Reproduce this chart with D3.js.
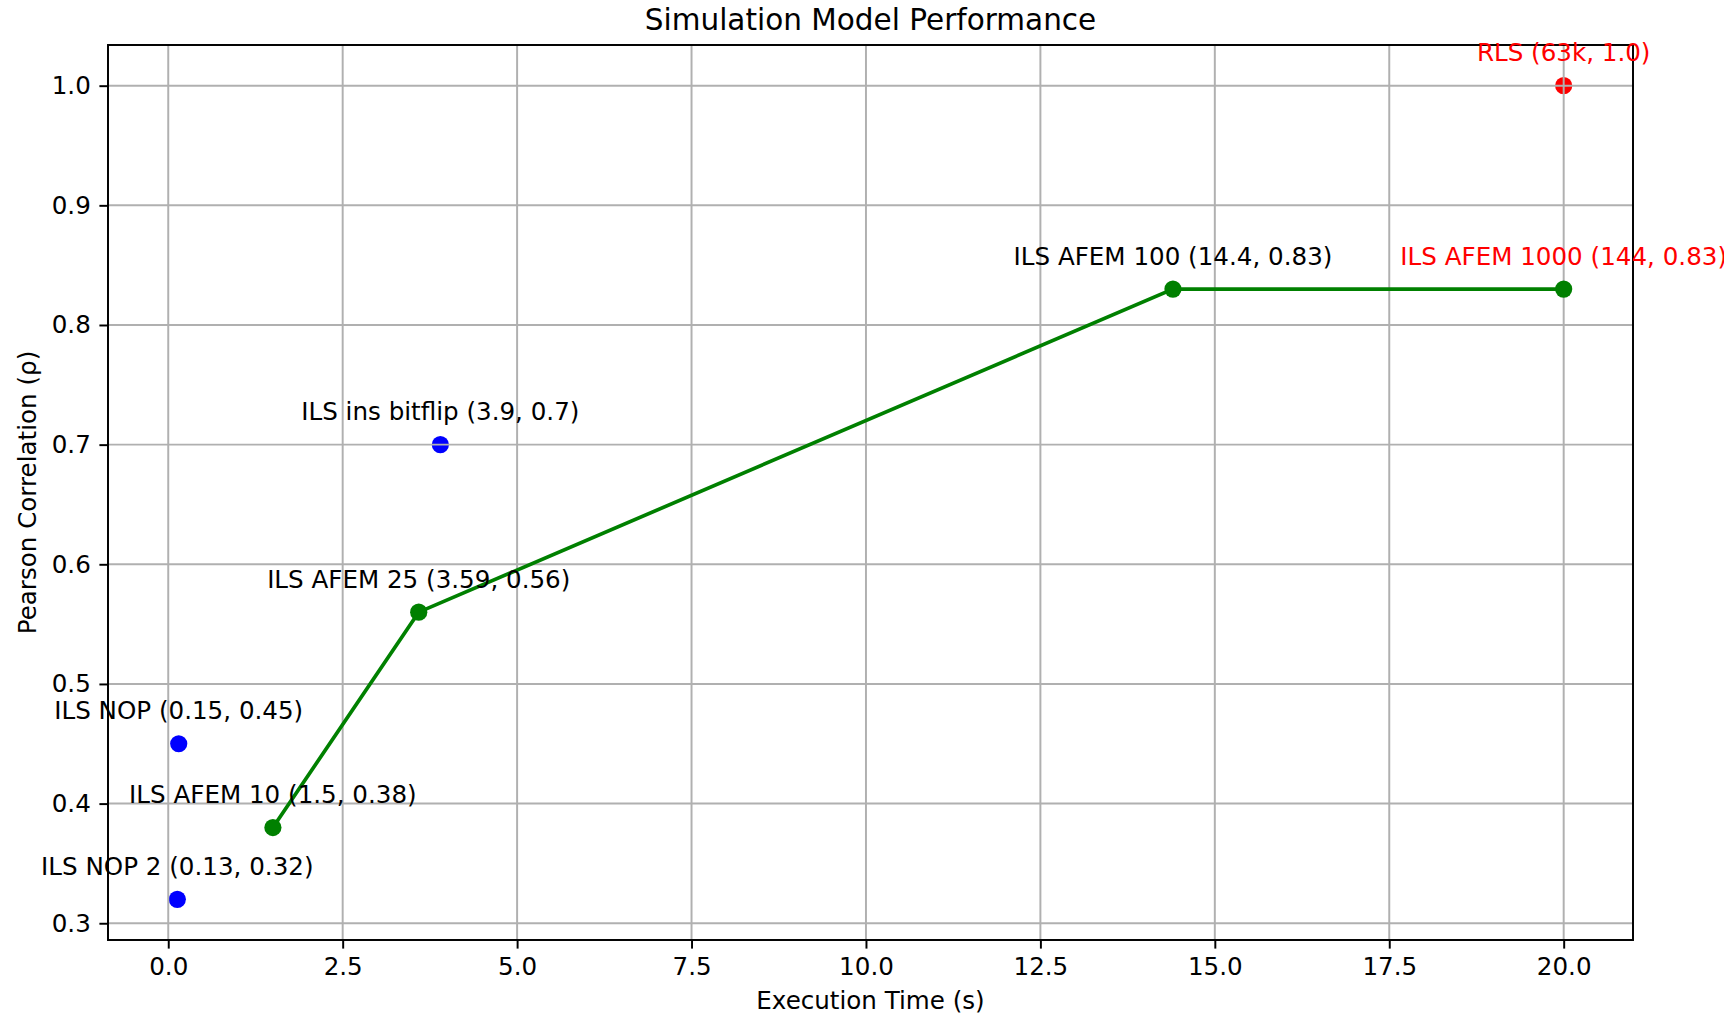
<!DOCTYPE html>
<html>
<head>
<meta charset="utf-8">
<script src="https://cdn.jsdelivr.net/npm/d3@7"></script>
<style>
  body { margin: 0; background: #fff; }
  svg { display: block; font-family: "DejaVu Sans", sans-serif; }
</style>
</head>
<body>
<svg id="chart"></svg>
<script>
// Data
const blueLabels = ["ILS NOP (0.15, 0.45)", "ILS NOP 2 (0.13, 0.32)", "ILS ins bitflip (3.9, 0.7)"];
const blueX = [0.15, 0.13, 3.9];
const blueY = [0.45, 0.32, 0.7];

const greenLabels = ["ILS AFEM 10 (1.5, 0.38)", "ILS AFEM 25 (3.59, 0.56)", "ILS AFEM 100 (14.4, 0.83)", "ILS AFEM 1000 (144, 0.83)"];
const greenX = [1.5, 3.59, 14.4, 20];
const greenY = [0.38, 0.56, 0.83, 0.83];
const greenLabelColors = ["black", "black", "black", "red"];

const redLabels = ["RLS (63k, 1.0)"];
const redX = [20];
const redY = [1.0];

const xTicks = [0, 2.5, 5, 7.5, 10, 12.5, 15, 17.5, 20];
const yTicks = [0.3, 0.4, 0.5, 0.6, 0.7, 0.8, 0.9, 1.0];

const width = 1724, height = 1015;
const plotL = 108, plotR = 1633, plotT = 45, plotB = 940;
const pt = 177 / 72; // points -> pixels
const fs = 10 * pt;

const svg = d3.select("#chart").attr("width", width).attr("height", height);

// matplotlib-style 5% margins
const allX = blueX.concat(greenX, redX);
const allY = blueY.concat(greenY, redY);
function padded(vals) {
  const [lo, hi] = d3.extent(vals);
  const m = (hi - lo) * 0.05;
  return [lo - m, hi + m];
}
const x = d3.scaleLinear().domain(padded(allX)).range([plotL, plotR]);
const y = d3.scaleLinear().domain(padded(allY)).range([plotB, plotT]);

const blue = blueX.map((v, i) => ({ x: v, y: blueY[i], label: blueLabels[i], color: "black" }));
const green = greenX.map((v, i) => ({ x: v, y: greenY[i], label: greenLabels[i], color: greenLabelColors[i] }));
const red = redX.map((v, i) => ({ x: v, y: redY[i], label: redLabels[i], color: "red" }));

// scatter points (under the grid, like matplotlib)
const r = 3.5 * pt;
svg.append("g").selectAll("circle")
  .data(blue).join("circle")
  .attr("cx", d => x(d.x)).attr("cy", d => y(d.y)).attr("r", r)
  .attr("fill", "#0000ff");
svg.append("g").selectAll("circle")
  .data(red).join("circle")
  .attr("cx", d => x(d.x)).attr("cy", d => y(d.y)).attr("r", r)
  .attr("fill", "#ff0000");

// grid
const grid = svg.append("g").attr("stroke", "#b0b0b0").attr("stroke-width", 0.8 * pt);
grid.selectAll(".gx").data(xTicks).join("line").attr("class", "gx")
  .attr("x1", d => x(d)).attr("x2", d => x(d)).attr("y1", plotT).attr("y2", plotB);
grid.selectAll(".gy").data(yTicks).join("line").attr("class", "gy")
  .attr("y1", d => y(d)).attr("y2", d => y(d)).attr("x1", plotL).attr("x2", plotR);

// green line with markers
svg.append("path")
  .datum(green)
  .attr("fill", "none")
  .attr("stroke", "#008000")
  .attr("stroke-width", 1.5 * pt)
  .attr("d", d3.line().x(d => x(d.x)).y(d => y(d.y)));
svg.append("g").selectAll("circle")
  .data(green).join("circle")
  .attr("cx", d => x(d.x)).attr("cy", d => y(d.y)).attr("r", r)
  .attr("fill", "#008000");

// axes
const xAxis = svg.append("g")
  .attr("transform", `translate(0,${plotB})`)
  .call(d3.axisBottom(x).tickValues(xTicks).tickFormat(d3.format(".1f"))
    .tickSize(3.5 * pt).tickSizeOuter(0).tickPadding(3.5 * pt));
const yAxis = svg.append("g")
  .attr("transform", `translate(${plotL},0)`)
  .call(d3.axisLeft(y).tickValues(yTicks).tickFormat(d3.format(".1f"))
    .tickSize(3.5 * pt).tickSizeOuter(0).tickPadding(3.5 * pt));
[xAxis, yAxis].forEach(a => {
  a.select(".domain").remove();
  a.selectAll("line").attr("stroke", "black").attr("stroke-width", 0.8 * pt);
  a.selectAll("text").attr("font-size", fs).attr("font-family", "DejaVu Sans").attr("fill", "black");
});

// frame
svg.append("rect")
  .attr("x", plotL).attr("y", plotT)
  .attr("width", plotR - plotL).attr("height", plotB - plotT)
  .attr("fill", "none").attr("stroke", "black").attr("stroke-width", 0.8 * pt);

// annotations, 10pt above each point
svg.append("g").selectAll("text")
  .data(blue.concat(green, red)).join("text")
  .attr("x", d => x(d.x))
  .attr("y", d => y(d.y) - 10 * pt)
  .attr("text-anchor", "middle")
  .attr("font-size", fs)
  .attr("fill", d => d.color)
  .text(d => d.label);

// title and axis labels
svg.append("text")
  .attr("x", (plotL + plotR) / 2).attr("y", plotT - 6 * pt)
  .attr("text-anchor", "middle").attr("font-size", 12 * pt)
  .text("Simulation Model Performance");
svg.append("text")
  .attr("x", (plotL + plotR) / 2).attr("y", 1009)
  .attr("text-anchor", "middle").attr("font-size", fs)
  .text("Execution Time (s)");
svg.append("text")
  .attr("transform", `translate(36,${(plotT + plotB) / 2}) rotate(-90)`)
  .attr("text-anchor", "middle").attr("font-size", fs)
  .text("Pearson Correlation (ρ)");
</script>
</body>
</html>
